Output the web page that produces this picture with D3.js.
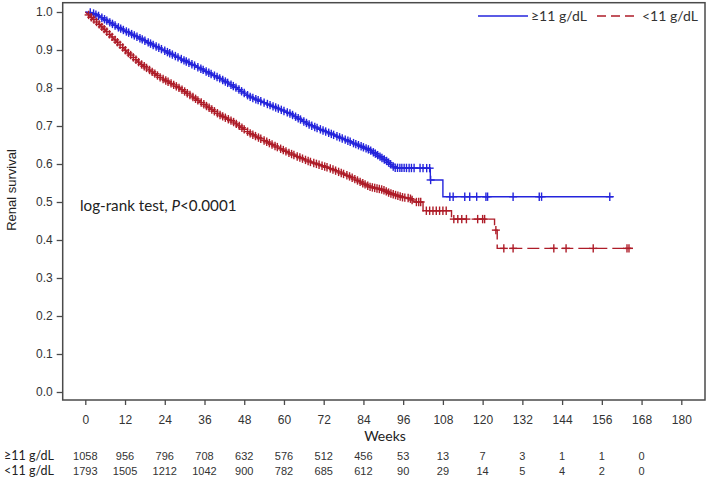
<!DOCTYPE html>
<html><head><meta charset="utf-8">
<script src="https://cdn.jsdelivr.net/npm/d3@7"></script>
<style>body{margin:0;background:#fff}svg{display:block}</style>
</head><body>
<svg id="c" width="708" height="482"></svg>
<script>
// ---- data ----
const xTicks = [0,12,24,36,48,60,72,84,96,108,120,132,144,156,168,180];
const yTicks = [0.0,0.1,0.2,0.3,0.4,0.5,0.6,0.7,0.8,0.9,1.0];
const groups = ["≥11 g/dL", "<11 g/dL"];
const riskHigh = [1058,956,796,708,632,576,512,456,53,13,7,3,1,1,0];
const riskLow  = [1793,1505,1212,1042,900,782,685,612,90,29,14,5,4,2,0];

// survival curve vertices [week, survival]
const curveHigh = [[0,1.0],[2,0.998],[4.4,0.988],[10.5,0.957],[16.5,0.931],[22.6,0.904],[28.6,0.878],[34.6,0.852],[40.7,0.825],[45.7,0.800],[49.7,0.777],[55.8,0.755],[61.8,0.733],[67.8,0.703],[73.8,0.681],[79.9,0.659],[85.9,0.637],[91,0.608],[93.5,0.590],[104.2,0.589],[104.2,0.558],[108,0.558],[108,0.514],[159.4,0.514]];
const curveLow = [[0,1.0],[4.4,0.966],[8.5,0.931],[12.5,0.896],[16.5,0.865],[22.6,0.828],[28.6,0.799],[34.6,0.764],[40.7,0.729],[44.7,0.711],[49.7,0.681],[55.8,0.654],[61.8,0.628],[67.8,0.606],[73.8,0.589],[79.9,0.567],[85.9,0.540],[90,0.532],[92,0.523],[96,0.512],[98,0.510],[99.5,0.500],[102,0.500],[102,0.477],[110.6,0.477],[110.6,0.455],[123.6,0.455],[123.6,0.426],[124.4,0.426],[124.4,0.378],[165.3,0.378]];

// censoring times (weeks)
const censorHigh = [1.5,2.5,3.2,4,5,5.8,6.5,7.4,8.2,9,10,10.7,11.5,12.4,13.1,14,14.8,15.6,16.5,17.2,18,19,19.7,20.5,21.4,22.2,23,24,24.8,25.5,26.3,27.2,28,29,29.8,30.5,31.3,32.2,33,34,34.9,35.6,36.5,37.3,38,39,39.8,40.6,41.5,42.3,43,44,44.7,45.5,46.4,47.2,48,49,49.8,50.6,51.5,52.2,53,54,55,55.8,56.7,57.5,58.3,59.2,60,61,61.8,62.6,63.5,64.3,65,66,66.8,67.6,68.4,69.3,70,71,71.8,72.6,73.5,74.3,75,76,76.8,77.6,78.5,79.3,80,81,81.7,82.5,83.3,84,84.8,85.5,86.2,87,87.6,88.3,89,89.6,90.3,91,91.6,92.2,93,93.6,94.3,95,95.6,96.3,97,97.8,98.5,99.3,101.1,102,103.1,104,104.3,110.1,111.1,114.6,116.1,118.2,121,121.5,129.2,137.1,137.8,158.4];
const censorLow = [1,1.8,2.6,3.4,4.2,5,5.7,6.5,7.3,8.1,9,9.7,10.5,11.3,12.1,13,13.7,14.5,15.3,16.1,17,17.8,18.5,19.4,20.2,21,21.8,22.6,23.5,24.3,25,25.9,26.7,27.5,28.3,29.2,30,30.8,31.6,32.5,33.3,34,35,35.8,36.6,37.4,38.2,39,39.9,40.7,41.5,42.3,43.2,44,44.8,45.6,46.5,47.3,48,49,49.8,50.6,51.4,52.3,53,54,54.8,55.6,56.4,57.3,58,59,59.8,60.6,61.5,62.3,63,64,64.8,65.6,66.5,67.3,68,69,69.8,70.6,71.5,72.3,73,74,74.8,75.6,76.5,77.3,78,79,79.8,80.6,81.4,82.2,83,83.8,84.5,85.3,86,86.7,87.4,88.1,88.8,89.5,90.2,90.9,91.6,92.3,93,93.7,94.4,95.1,95.8,96.5,97.5,98.2,98.7,100,100.7,101.3,103,104,105,106,107,108,109,111.3,112.5,113.7,115.1,118.5,120,120.6,124,126.4,129.2,141.5,145.2,153.4,163.6,164.2];

// ---- drawing ----
const svg = d3.select("#c");
const colHigh = "#2424dc", colLow = "#ae1c28";
const x = d3.scaleLinear().domain([0,180]).range([85.3,681.3]);
const y = d3.scaleLinear().domain([0,1]).range([392,12]);
const frame = {l:62.7, t:2.7, r:705, b:400};

svg.append("rect").attr("x",frame.l).attr("y",frame.t)
  .attr("width",frame.r-frame.l).attr("height",frame.b-frame.t)
  .attr("fill","none").attr("stroke","#4a4a4a").attr("stroke-width",1.5);

const yAxis = svg.append("g").attr("transform",`translate(${frame.l},0)`)
  .call(d3.axisLeft(y).tickValues(yTicks).tickFormat(d3.format(".1f")).tickSize(6).tickPadding(4));
const xAxis = svg.append("g").attr("transform",`translate(0,${frame.b})`)
  .call(d3.axisBottom(x).tickValues(xTicks).tickFormat(d3.format("d")).tickSize(5).tickPadding(10));
[yAxis,xAxis].forEach(g=>{
  g.select(".domain").remove();
  g.selectAll(".tick line").attr("stroke","#4a4a4a").attr("stroke-width",1.3);
  g.selectAll(".tick text").attr("fill","#333").style("font-family","'Liberation Sans',Arial,sans-serif").style("font-size","12px");
});

svg.append("text").attr("transform","translate(16,190) rotate(-90)")
  .attr("text-anchor","middle").attr("fill","#222")
  .style("font-family","'Liberation Sans',Arial,sans-serif").style("font-size","13px")
  .text("Renal survival");

svg.append("text").attr("x",385).attr("y",441).attr("text-anchor","middle").attr("fill","#222")
  .style("font-family","Lato,'Open Sans',sans-serif").style("font-size","14px").text("Weeks");

function interp(curve,t){
  for(let i=0;i<curve.length-1;i++){
    const [x0,y0]=curve[i],[x1,y1]=curve[i+1];
    if(x1>x0 && t>=x0 && t<=x1) return y0+(y1-y0)*(t-x0)/(x1-x0);
  }
  return curve[curve.length-1][1];
}

const line = d3.line().x(d=>x(d[0])).y(d=>y(d[1]));
function drawGroup(curve,censor,col,dash){
  svg.append("path").datum(curve).attr("d",line).attr("fill","none")
    .attr("stroke",col).attr("stroke-width",1.4).attr("stroke-dasharray",dash);
  const g = svg.append("g").attr("stroke",col).attr("stroke-width",1.4);
  censor.forEach(t=>{
    const cx=x(t), cy=y(interp(curve,t));
    g.append("line").attr("x1",cx).attr("x2",cx).attr("y1",cy-4.2).attr("y2",cy+4.2);
    g.append("line").attr("x1",cx-4).attr("x2",cx+4).attr("y1",cy).attr("y2",cy);
  });
}
drawGroup(curveHigh,censorHigh,colHigh,null);
drawGroup(curveLow,censorLow,colLow,"12,5");

// legend
const lg = svg.append("g").style("font-family","Lato,'Open Sans',sans-serif").style("font-size","14px");
lg.append("line").attr("x1",478).attr("x2",528).attr("y1",16).attr("y2",16).attr("stroke",colHigh).attr("stroke-width",1.3);
lg.append("text").attr("x",531).attr("y",21).attr("fill","#333").text(groups[0]);
lg.append("line").attr("x1",597).attr("x2",639).attr("y1",16).attr("y2",16).attr("stroke",colLow).attr("stroke-width",1.3).attr("stroke-dasharray","9,5");
lg.append("text").attr("x",642).attr("y",21).attr("fill","#333").text(groups[1]);

// log-rank annotation
const ann = svg.append("text").attr("x",80).attr("y",211).attr("fill","#222")
  .style("font-family","Lato,'Open Sans',sans-serif").style("font-size","15.2px");
ann.append("tspan").text("log-rank test, ");
ann.append("tspan").style("font-style","italic").text("P");
ann.append("tspan").text("<0.0001");

// risk table
const rt = svg.append("g");
[[groups[0],riskHigh,460],[groups[1],riskLow,475]].forEach(([lab,vals,yy])=>{
  rt.append("text").attr("x",4).attr("y",yy).attr("fill","#222")
    .style("font-family","Lato,'Open Sans',sans-serif").style("font-size","12.5px").text(lab);
  vals.forEach((v,i)=>{
    rt.append("text").attr("x",x(xTicks[i])).attr("y",yy).attr("text-anchor","middle").attr("fill","#333")
      .style("font-family","'Liberation Sans',Arial,sans-serif").style("font-size","11px").text(v);
  });
});
</script>
</body></html>
